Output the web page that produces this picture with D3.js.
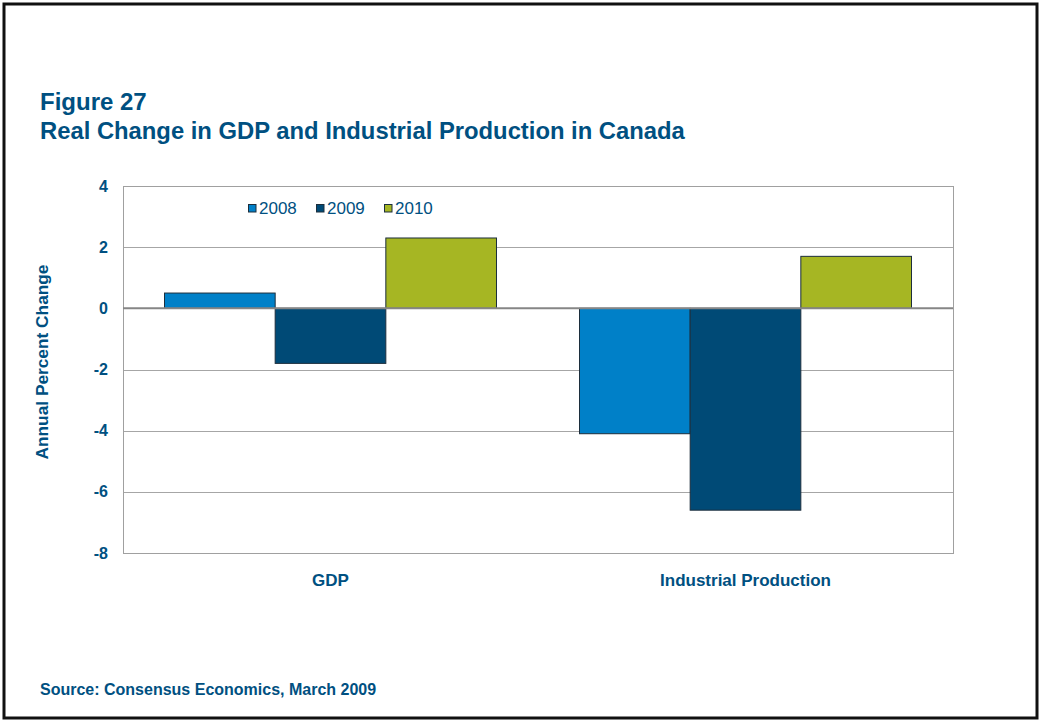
<!DOCTYPE html>
<html>
<head>
<meta charset="utf-8">
<script src="https://cdn.jsdelivr.net/npm/d3@7"></script>
<style>
  html, body { margin: 0; padding: 0; background: #fff; }
  svg { display: block; }
  text { font-family: "Liberation Sans", Arial, sans-serif; }
</style>
</head>
<body>
<svg id="chart" width="1041" height="721"></svg>
<script>
// Chart data
const categories = ["GDP", "Industrial Production"];
const seriesNames = ["2008", "2009", "2010"];
const values2008 = [0.5, -4.1];
const values2009 = [-1.8, -6.6];
const values2010 = [2.3, 1.7];
const yTicks = [4, 2, 0, -2, -4, -6, -8];

const seriesValues = [values2008, values2009, values2010];
const colors = ["#0080c8", "#004a76", "#a6b623"];
const textColor = "#005081";
const fontFamily = "'Liberation Sans', Arial, sans-serif";

const svg = d3.select("#chart");
const W = 1041, H = 721;

// Outer frame
svg.append("rect")
  .attr("x", 4).attr("y", 4).attr("width", W - 8).attr("height", H - 7)
  .attr("fill", "none").attr("stroke", "#111").attr("stroke-width", 3);

// Titles
svg.append("text").attr("x", 40).attr("y", 110)
  .attr("fill", textColor).attr("font-weight", "bold").attr("font-size", 24)
  .text("Figure 27");
svg.append("text").attr("x", 40).attr("y", 139)
  .attr("fill", textColor).attr("font-weight", "bold").attr("font-size", 23.8)
  .text("Real Change in GDP and Industrial Production in Canada");

// Plot area
const plot = { left: 123, right: 953, top: 186, bottom: 553 };

const y = d3.scaleLinear().domain([-8, 4]).range([plot.bottom, plot.top]);
const x0 = d3.scaleBand().domain(categories)
  .range([plot.left, plot.right]).paddingInner(0.2).paddingOuter(0.1);
const x1 = d3.scaleBand().domain(seriesNames).range([0, x0.bandwidth()]);

// Gridlines
svg.append("g").selectAll("line").data(yTicks.filter(t => t !== 0 && t !== -8 && t !== 4)).join("line")
  .attr("x1", plot.left).attr("x2", plot.right)
  .attr("y1", d => Math.round(y(d)) + 0.5).attr("y2", d => Math.round(y(d)) + 0.5)
  .attr("stroke", "#a6a6a6").attr("stroke-width", 1);

// Plot border
svg.append("rect")
  .attr("x", plot.left + 0.5).attr("y", Math.round(y(4)) + 0.5)
  .attr("width", plot.right - plot.left).attr("height", Math.round(y(-8)) - Math.round(y(4)))
  .attr("fill", "none").attr("stroke", "#a0a0a0").attr("stroke-width", 1);

// Bars
const groups = svg.append("g").selectAll("g").data(categories).join("g")
  .attr("transform", d => `translate(${x0(d)},0)`);
groups.selectAll("rect")
  .data((c, ci) => seriesNames.map((s, si) => ({ s, si, v: seriesValues[si][ci] })))
  .join("rect")
  .attr("x", d => x1(d.s))
  .attr("width", x1.bandwidth())
  .attr("y", d => y(Math.max(0, d.v)))
  .attr("height", d => Math.abs(y(d.v) - y(0)))
  .attr("fill", d => colors[d.si])
  .attr("stroke", "#1c2e3c").attr("stroke-width", 1);

// Zero line
svg.append("line")
  .attr("x1", plot.left).attr("x2", plot.right)
  .attr("y1", y(0)).attr("y2", y(0))
  .attr("stroke", "#868686").attr("stroke-width", 2);

// Y axis labels
const yAxis = d3.axisLeft(y).tickValues(yTicks).tickSize(0).tickPadding(0).tickFormat(d => String(d));
const gy = svg.append("g").attr("transform", `translate(${plot.left - 15},0)`).call(yAxis);
gy.select(".domain").remove();
gy.selectAll("text")
  .attr("fill", textColor).attr("font-weight", "bold").attr("font-size", 16)
  .attr("font-family", fontFamily);

// Category labels
const xAxis = d3.axisBottom(x0).tickSize(0).tickPadding(0);
const gx = svg.append("g").attr("transform", `translate(0,${plot.bottom + 21})`).call(xAxis);
gx.select(".domain").remove();
gx.selectAll("text")
  .attr("fill", textColor).attr("font-weight", "bold").attr("font-size", 17)
  .attr("font-family", fontFamily);

// Y axis title
svg.append("text")
  .attr("transform", "translate(48,362) rotate(-90)")
  .attr("text-anchor", "middle")
  .attr("fill", textColor).attr("font-weight", "bold").attr("font-size", 17.3)
  .text("Annual Percent Change");

// Legend
const legend = svg.append("g").attr("transform", "translate(248,204)");
const legendItems = legend.selectAll("g").data(seriesNames).join("g")
  .attr("transform", (d, i) => `translate(${i * 68},0)`);
legendItems.append("rect")
  .attr("x", 0.5).attr("y", 0.5).attr("width", 7.5).attr("height", 7.5)
  .attr("fill", (d, i) => colors[i]).attr("stroke", "#1c2e3c").attr("stroke-width", 1);
legendItems.append("text")
  .attr("x", 11).attr("y", 10)
  .attr("fill", textColor).attr("font-size", 17)
  .text(d => d);

// Source
svg.append("text").attr("x", 40).attr("y", 695)
  .attr("fill", textColor).attr("font-weight", "bold").attr("font-size", 16)
  .text("Source: Consensus Economics, March 2009");
</script>
</body>
</html>
